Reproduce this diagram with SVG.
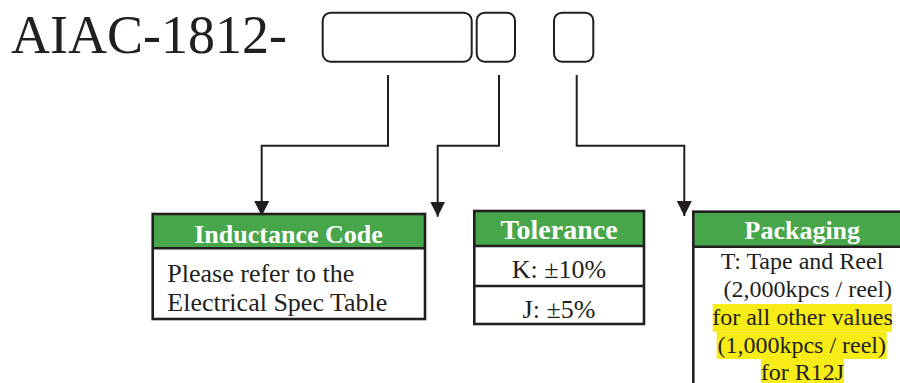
<svg xmlns="http://www.w3.org/2000/svg" width="900" height="383" viewBox="0 0 900 383">
  <style>
    .ink { fill: #231F20; font-family: "Liberation Serif", "Times New Roman", serif; }
    .hdr { fill: #FFFFFF; font-family: "Liberation Serif", "Times New Roman", serif; font-weight: bold; font-size: 26px; text-anchor: middle; }
    .slot { fill: none; stroke: #231F20; stroke-width: 2; }
    .frame { fill: none; stroke: #231F20; stroke-width: 2.6; }
    .head { fill: #47A64A; }
    .wire { fill: none; stroke: #231F20; stroke-width: 2; }
    .hl { fill: #F7EC17; }
  </style>
  <defs>
    <marker id="arrow" markerUnits="userSpaceOnUse" markerWidth="15" markerHeight="15" refX="15" refY="7.5" orient="auto">
      <path d="M0,0 L15,7.5 L0,15 z" fill="#231F20"/>
    </marker>
  </defs>
  <rect width="900" height="383" fill="#FFFFFF"/>

  <g id="title">
    <text class="ink" x="11" y="52.5" font-size="54">AIAC-1812-</text>
    <rect class="slot" x="322.7" y="12.7" width="149" height="49" rx="8"/>
    <rect class="slot" x="476.7" y="12.7" width="38.3" height="49" rx="8"/>
    <rect class="slot" x="554" y="12.7" width="39.3" height="49" rx="8"/>
  </g>

  <g id="connectors">
    <path class="wire" d="M388,75 V145.7 H261.7 V216" marker-end="url(#arrow)"/>
    <path class="wire" d="M499,75 V145.7 H437.7 V216.7" marker-end="url(#arrow)"/>
    <path class="wire" d="M576.7,75 V145.7 H684.3 V216" marker-end="url(#arrow)"/>
  </g>

  <g id="inductance">
    <rect class="head" x="152.7" y="214" width="272.3" height="34.3"/>
    <rect class="frame" x="152.7" y="214" width="272.3" height="105"/>
    <line class="frame" x1="152.7" y1="248.3" x2="425" y2="248.3"/>
    <text class="hdr" x="288.5" y="242.7">Inductance Code</text>
    <text class="ink" x="167.3" y="281.7" font-size="26">Please refer to the</text>
    <text class="ink" x="167.3" y="311" font-size="26">Electrical Spec Table</text>
  </g>

  <g id="tolerance">
    <rect class="head" x="474.3" y="211" width="169.7" height="35"/>
    <rect class="frame" x="474.3" y="211" width="169.7" height="113"/>
    <line class="frame" x1="474.3" y1="246" x2="644" y2="246"/>
    <line class="frame" x1="474.3" y1="286" x2="644" y2="286"/>
    <text class="hdr" x="559" y="239.3" style="font-size:28px">Tolerance</text>
    <text class="ink" x="559" y="278.3" font-size="26" text-anchor="middle">K: ±10%</text>
    <text class="ink" x="559" y="317.7" font-size="26" text-anchor="middle">J: ±5%</text>
  </g>

  <g id="packaging">
    <rect class="head" x="693.3" y="211.7" width="220" height="35"/>
    <rect class="frame" x="693.3" y="211.7" width="220" height="190"/>
    <line class="frame" x1="693.3" y1="246.7" x2="913" y2="246.7"/>
    <text class="hdr" x="802.3" y="239">Packaging</text>
    <rect class="hl" x="712.7" y="304" width="179.3" height="27.7"/>
    <rect class="hl" x="716.7" y="331.7" width="170" height="27.3"/>
    <rect class="hl" x="761" y="359" width="83" height="26"/>
    <text class="ink" x="802" y="269.3" font-size="24" text-anchor="middle">T: Tape and Reel</text>
    <text class="ink" x="807.8" y="296.7" font-size="24" text-anchor="middle">(2,000kpcs / reel)</text>
    <text class="ink" x="802.5" y="325" font-size="24" text-anchor="middle">for all other values</text>
    <text class="ink" x="801.7" y="352.7" font-size="24" text-anchor="middle">(1,000kpcs / reel)</text>
    <text class="ink" x="802.5" y="380" font-size="24" text-anchor="middle">for R12J</text>
  </g>
</svg>
